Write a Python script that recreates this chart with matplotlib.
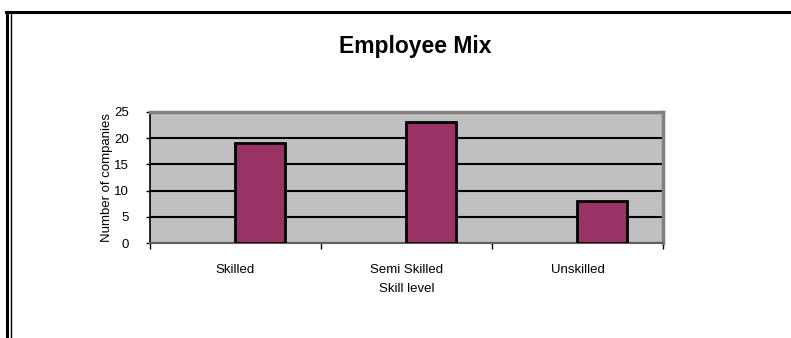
import numpy as np
import matplotlib.pyplot as plt
from matplotlib.lines import Line2D

categories = ["Skilled", "Semi Skilled", "Unskilled"]
companies = [19, 23, 8]
y_ticks = [0, 5, 10, 15, 20, 25]

plt.rcParams['font.family'] = ['Liberation Sans', 'DejaVu Sans']

fig = plt.figure(figsize=(7.91, 3.38), dpi=100)
ax = fig.add_axes([150 / 791, 95 / 338, 513 / 791, 131 / 338])

x = np.arange(len(categories))
ax.set_facecolor('#c0c0c0')
ax.bar(x + 0.143, companies, width=0.29, color='#993366',
       edgecolor='black', linewidth=2, zorder=3)

ax.set_xlim(-0.5, len(categories) - 0.5)
ax.set_ylim(0, 25)
ax.set_yticks(y_ticks)
ax.set_yticklabels([str(v) for v in y_ticks], fontsize=9.5)
ax.yaxis.grid(True, color='black', linewidth=1.5, zorder=1)
ax.set_axisbelow(True)

# category labels at centers, ticks at boundaries
ax.set_xticks(x)
ax.set_xticklabels(categories, fontsize=9.5)
ax.tick_params(axis='x', which='major', length=0, pad=15)
ax.set_xticks(np.arange(-0.5, len(categories)), minor=True)
ax.tick_params(axis='x', which='minor', length=4, width=1, color='black')
ax.tick_params(axis='y', length=3, width=1, pad=12)

for side in ['top', 'right']:
    ax.spines[side].set_color('#808080')
    ax.spines[side].set_linewidth(2.5)
ax.spines['left'].set_color('black')
ax.spines['left'].set_linewidth(1.2)
ax.spines['bottom'].set_color('#606060')
ax.spines['bottom'].set_linewidth(1.5)

ax.set_xlabel("Skill level", fontsize=9.5, labelpad=5)
ax.set_ylabel("Number of companies", fontsize=9.5, labelpad=1)

fig.text(415 / 791, 1 - 46 / 338, "Employee Mix", fontsize=16.5,
         fontweight='bold', ha='center', va='center')

# outer chart frame
fig.add_artist(Line2D([6 / 791, 1], [1 - 12 / 338] * 2, color='black', linewidth=2.2))
fig.add_artist(Line2D([7 / 791] * 2, [0, 1 - 12 / 338], color='black', linewidth=2.2))
fig.add_artist(Line2D([10.5 / 791] * 2, [0, 1 - 12 / 338], color='black', linewidth=1))

fig.savefig("out.png", dpi=100)
